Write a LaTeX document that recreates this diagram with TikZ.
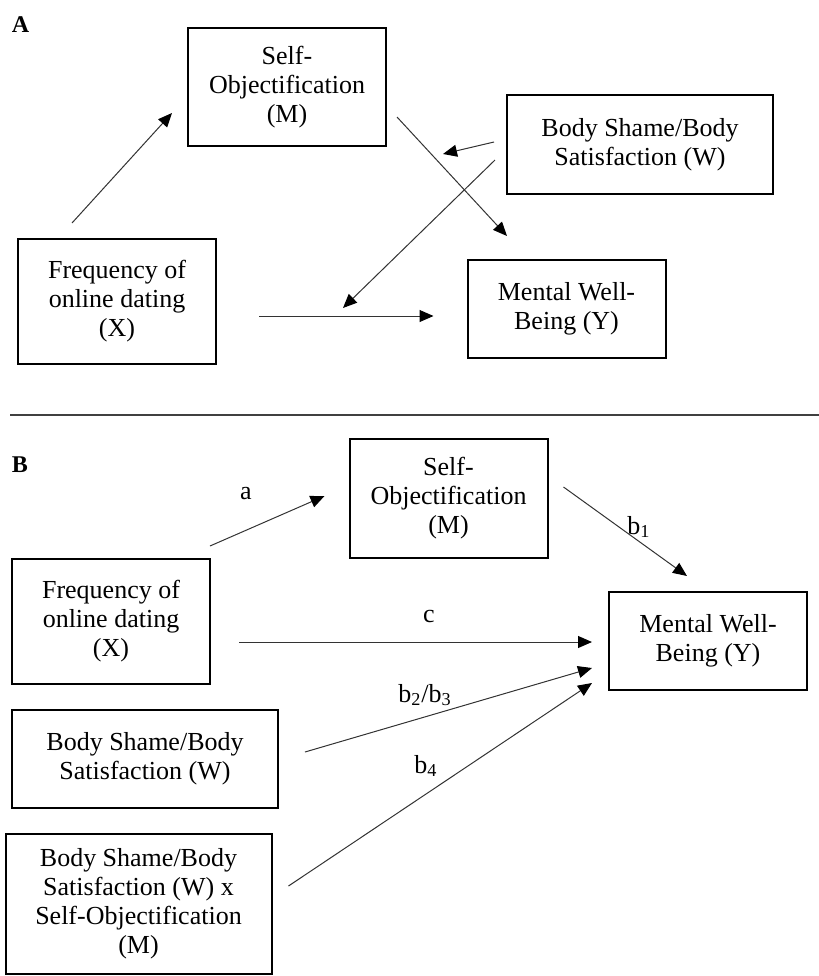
\documentclass[tikz,border=0pt]{standalone}
\usepackage{fontspec}
\setmainfont{Liberation Serif}
\usepackage{tikz}
\usetikzlibrary{arrows.meta, calc}

\begin{document}
\begin{tikzpicture}[
    x=0.5pt, y=-0.5pt,
    >={Triangle[length=7pt, width=6pt, color=black]},
    box/.style={rectangle, draw, line width=1pt, align=center, inner sep=0pt, minimum width=99pt, font=\fontsize{13}{14.5}\selectfont},
    widebox/.style={box, minimum width=133pt},
    link/.style={->, draw=black!80, line width=0.5pt},
    coef/.style={anchor=base, font=\fontsize{13}{14.5}\selectfont},
    panel/.style={font=\fontsize{12}{14}\selectfont\bfseries}
]
\useasboundingbox (0,0) rectangle (819,976);

% A. Conceptual model
\node[panel] (labA) at (20.5,24.5) {A};
\node[box, minimum height=59pt] (selfA) at (287,87) {Self-\\Objectification\\(M)};
\node[widebox, minimum height=49.5pt] (shameA) at (640,144.5) {Body Shame/Body\\Satisfaction (W)};
\node[box, minimum height=62.5pt] (freqA) at (117,301.5) {Frequency of\\online dating\\(X)};
\node[box, minimum height=49pt] (wellA) at (566.5,309) {Mental Well-\\Being (Y)};

\coordinate (modA1) at (443,154);
\coordinate (modA2) at (343,308);

\draw[link] ($(freqA.north)+(-45,-15)$) -- ($(selfA.west)+(-15,26)$);
\draw[link] ($(selfA.east)+(10,30)$) -- ($(wellA.north)+(-59.5,-23)$);
\draw[link] ($(freqA.east)+(42,14.5)$) -- ($(wellA.west)+(-33,7)$);
\draw[link] ($(shameA.west)+(-12,-2.5)$) -- (modA1);
\draw[link] ($(shameA.west)+(-11,15.5)$) -- (modA2);

% separator
\draw[black!75, line width=1pt] (10,415) -- (819,415);

% B. Statistical model
\node[panel] (labB) at (20,465) {B};
\node[box, minimum height=59.5pt] (selfB) at (448.5,498.5) {Self-\\Objectification\\(M)};
\node[box, minimum height=62.5pt] (freqB) at (111,621.5) {Frequency of\\online dating\\(X)};
\node[widebox, minimum height=49pt] (shameB) at (145,759) {Body Shame/Body\\Satisfaction (W)};
\node[widebox, minimum height=70pt] (interB) at (138.5,904) {Body Shame/Body\\Satisfaction (W) x\\Self-Objectification\\(M)};
\node[box, minimum height=49pt] (wellB) at (708,641) {Mental Well-\\Being (Y)};

\draw[link] ($(freqB.north)+(99,-12)$) -- ($(selfB.west)+(-24,-2.5)$);
\draw[link] ($(selfB.east)+(15,-11.5)$) -- ($(wellB.north)+(-21,-15)$);
\draw[link] ($(freqB.east)+(28,20.5)$) -- ($(wellB.west)+(-16,1)$);
\draw[link] ($(shameB.east)+(26,-7)$) -- ($(wellB.west)+(-16,27)$);
\draw[link] ($(interB.east)+(16,-18)$) -- ($(wellB.west)+(-16,42)$);

\node[coef] (ca) at (246,499) {a};
\node[coef] (cb1) at (639,534) {b\textsubscript{1}};
\node[coef] (cc) at (429,622) {c};
\node[coef] (cb23) at (425,702) {b\textsubscript{2}/b\textsubscript{3}};
\node[coef] (cb4) at (426,773) {b\textsubscript{4}};

\end{tikzpicture}
\end{document}
